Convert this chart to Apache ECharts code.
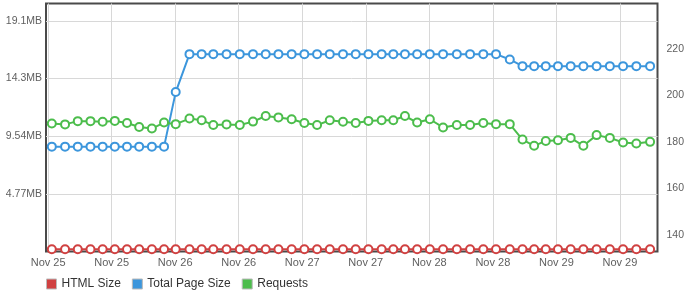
<!DOCTYPE html>
<html>
<head>
<meta charset="utf-8">
<script src="https://cdn.jsdelivr.net/npm/echarts@6/dist/echarts.min.js"></script>
<style>
html,body{margin:0;padding:0;background:#fff;}
#chart{width:694px;height:298px;}
</style>
</head>
<body>
<div id="chart"></div>
<script>
// hours since Nov 25 00:00
var times = [0.7,3.2,5.6,8.0,10.3,12.6,14.9,17.2,19.6,21.9,24.1,26.7,29.0,31.2,33.7,36.2,38.7,41.1,43.5,46.0,48.4,50.8,53.2,55.7,58.1,60.5,63.0,65.2,67.4,69.7,72.1,74.6,77.2,79.7,82.2,84.6,87.2,89.6,91.8,94.0,96.3,98.7,101.1,103.6,106.1,108.6,111.1,113.7];
// bytes
var htmlSize = [2.0e5,2.0e5,2.0e5,2.0e5,2.0e5,2.0e5,2.0e5,2.0e5,2.0e5,2.0e5,2.0e5,2.0e5,2.0e5,2.0e5,2.0e5,2.0e5,2.0e5,2.0e5,2.0e5,2.0e5,2.0e5,2.0e5,2.0e5,2.0e5,2.0e5,2.0e5,2.0e5,2.0e5,2.0e5,2.0e5,2.0e5,2.0e5,2.0e5,2.0e5,2.0e5,2.0e5,2.0e5,2.0e5,2.0e5,2.0e5,2.0e5,2.0e5,2.0e5,2.0e5,2.0e5,2.0e5,2.0e5,2.0e5];
var totalSize = [9.09e6,9.09e6,9.09e6,9.09e6,9.09e6,9.09e6,9.09e6,9.09e6,9.09e6,9.09e6,13.82e6,17.11e6,17.11e6,17.11e6,17.11e6,17.11e6,17.11e6,17.11e6,17.11e6,17.11e6,17.11e6,17.11e6,17.11e6,17.11e6,17.11e6,17.11e6,17.11e6,17.11e6,17.11e6,17.11e6,17.11e6,17.11e6,17.11e6,17.11e6,17.11e6,17.11e6,16.65e6,16.07e6,16.07e6,16.07e6,16.07e6,16.07e6,16.07e6,16.07e6,16.07e6,16.07e6,16.07e6,16.07e6];
var requests = [187.9,187.5,188.9,188.9,188.6,189.0,188.1,186.4,185.7,188.3,187.6,190.0,189.3,187.2,187.5,187.2,188.7,191.1,190.5,189.7,188.1,187.2,189.3,188.6,188.1,189.0,189.3,189.3,191.1,188.3,189.7,186.2,187.2,187.2,188.1,187.6,187.6,181.0,178.3,180.4,180.7,181.7,178.3,182.9,181.7,179.7,179.3,180.0];
var xTickValues = [0,12,24,36,48,60,72,84,96,108];
var xTickLabels = ['Nov 25','Nov 25','Nov 26','Nov 26','Nov 27','Nov 27','Nov 28','Nov 28','Nov 29','Nov 29'];
var leftTicks = [5e6,10e6,15e6,20e6];
var rightTicks = [140,160,180,200,220];
var seriesNames = ['HTML Size','Total Page Size','Requests'];
var colors = ['#d04141','#3c96dc','#4cbd4c'];

function pairs(ys){ return ys.map(function(v,i){ return [times[i], v]; }); }

var FONT = 'Liberation Sans, Arial, sans-serif';
var chart = echarts.init(document.getElementById('chart'), null, {renderer:'canvas'});
function lineSeries(idx, data, yAxisIndex){
  return {
    name: seriesNames[idx], type:'line', yAxisIndex: yAxisIndex,
    data: pairs(data), symbol:'emptyCircle', symbolSize:8, showAllSymbol:true,
    lineStyle:{color:colors[idx], width:2},
    itemStyle:{color:colors[idx], borderColor:colors[idx], borderWidth:2},
    emphasis:{disabled:true}, animation:false
  };
}
chart.setOption({
  animation:false,
  color: colors,
  grid:{left:46, right:36.5, top:3.5, bottom:46.5, show:true, borderColor:'#4a4a4a', borderWidth:2, backgroundColor:'transparent'},
  legend:{
    left:41, top:273, itemWidth:10, itemHeight:10, itemGap:11, itemTextGap:6, icon:'rect',
    textStyle:{fontFamily:FONT, fontSize:12, color:'#333'},
    data: seriesNames.map(function(n,i){ return {name:n, itemStyle:{color:colors[i], borderColor:'#bbb', borderWidth:1}}; })
  },
  xAxis:{
    type:'value', min:-0.4, max:115.1,
    axisLine:{show:false},
    axisTick:{show:false, customValues:xTickValues},
    splitLine:{show:true, lineStyle:{color:'#d8d8d8', width:1}},
    axisLabel:{customValues:xTickValues, margin:6, color:'#606060', fontFamily:FONT, fontSize:11,
      formatter:function(v){ return xTickLabels[Math.round(v/12)]; }}
  },
  yAxis:[
    {type:'value', min:0, max:21.5e6, position:'left',
     axisLine:{show:false}, axisTick:{show:false, customValues:leftTicks},
     splitLine:{show:true, lineStyle:{color:'#d8d8d8', width:1}},
     axisLabel:{customValues:leftTicks, margin:4, color:'#606060', fontFamily:FONT, fontSize:10.5,
       formatter:function(v){ return (v/1048576).toPrecision(3)+'MB'; }}},
    {type:'value', min:132.93, max:239.4, position:'right',
     axisLine:{show:false}, axisTick:{show:false, customValues:rightTicks},
     splitLine:{show:false},
     axisLabel:{customValues:rightTicks, margin:9, color:'#606060', fontFamily:FONT, fontSize:10.5}}
  ],
  series:[ lineSeries(0, htmlSize, 0), lineSeries(1, totalSize, 0), lineSeries(2, requests, 1) ]
});
</script>
</body>
</html>
